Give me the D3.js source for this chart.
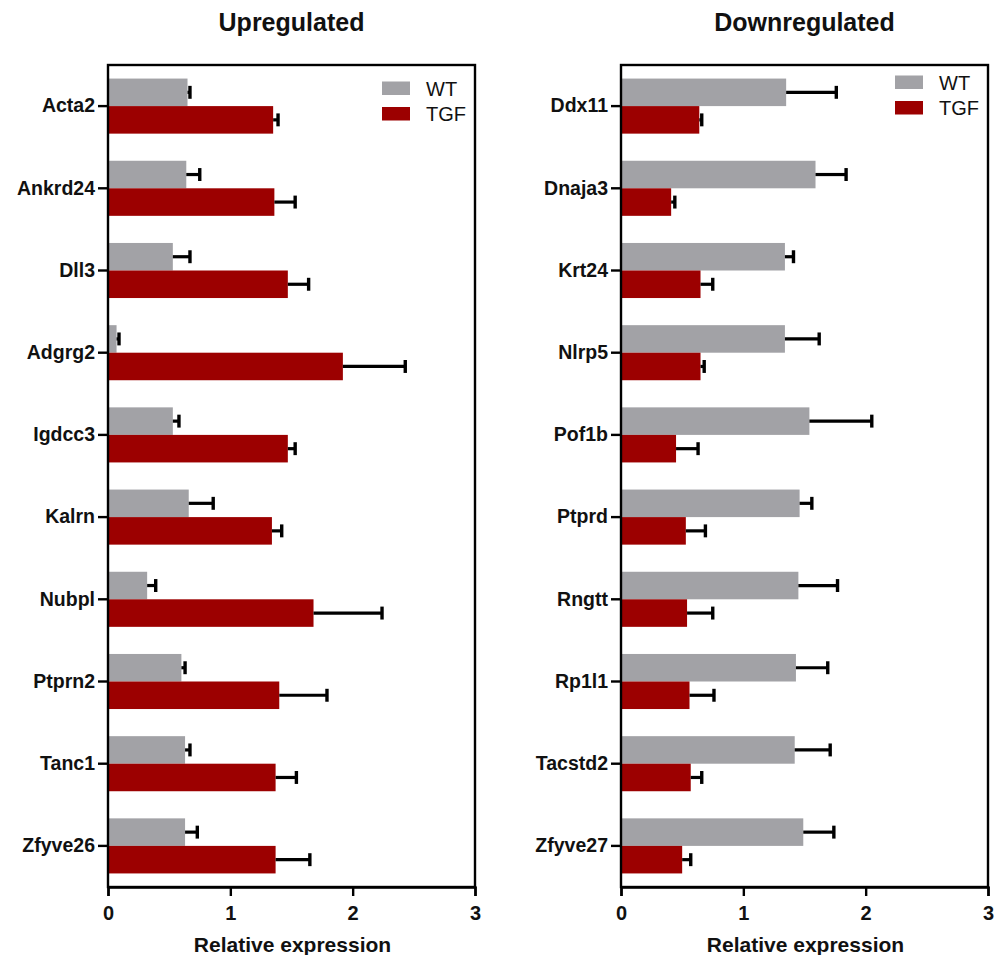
<!DOCTYPE html>
<html>
<head>
<meta charset="utf-8">
<script src="https://cdn.jsdelivr.net/npm/d3@7"></script>
<style>
  html, body { margin: 0; padding: 0; background: #fff; }
  svg { display: block; font-family: "Liberation Sans", Arial, Helvetica, sans-serif; }
</style>
</head>
<body>
<svg id="chart" width="997" height="955"></svg>
<script>
// Gene lists and measured means / error (SEM) per condition
const upGenes = ["Acta2", "Ankrd24", "Dll3", "Adgrg2", "Igdcc3", "Kalrn", "Nubpl", "Ptprn2", "Tanc1", "Zfyve26"];
const upWT      = [0.65, 0.64, 0.53, 0.07, 0.53, 0.66, 0.32, 0.60, 0.63, 0.63];
const upWTErr   = [0.02, 0.11, 0.14, 0.02, 0.05, 0.20, 0.07, 0.03, 0.04, 0.10];
const upTGF     = [1.35, 1.36, 1.47, 1.92, 1.47, 1.34, 1.68, 1.40, 1.37, 1.37];
const upTGFErr  = [0.04, 0.17, 0.17, 0.51, 0.06, 0.08, 0.56, 0.39, 0.17, 0.28];

const downGenes = ["Ddx11", "Dnaja3", "Krt24", "Nlrp5", "Pof1b", "Ptprd", "Rngtt", "Rp1l1", "Tacstd2", "Zfyve27"];
const downWT     = [1.35, 1.59, 1.34, 1.34, 1.54, 1.46, 1.45, 1.43, 1.42, 1.49];
const downWTErr  = [0.41, 0.25, 0.07, 0.28, 0.51, 0.10, 0.32, 0.26, 0.29, 0.25];
const downTGF    = [0.64, 0.41, 0.65, 0.65, 0.45, 0.53, 0.54, 0.56, 0.57, 0.50];
const downTGFErr = [0.02, 0.03, 0.10, 0.03, 0.18, 0.16, 0.21, 0.20, 0.09, 0.07];

const seriesNames = ["WT", "TGF"];
const seriesColors = ["#a2a2a6", "#9c0000"];
const xTicks = [0, 1, 2, 3];

const svg = d3.select("#chart");
const FONT = "Liberation Sans, Arial, sans-serif";

function panel(opts) {
  const { title, genes, wt, wtErr, tgf, tgfErr, left, right, legendY } = opts;
  const top = 65, bottom = 887;
  const g = svg.append("g");

  const x = d3.scaleLinear().domain([0, 3]).range([left, right]);
  const y = d3.scaleBand().domain(genes).range([top, bottom]).paddingInner(0.33).paddingOuter(0.165);
  const sub = d3.scaleBand().domain(seriesNames).range([0, y.bandwidth()]);

  const rows = genes.map((gene, i) => ({
    gene,
    vals: [
      { s: "WT", v: wt[i], e: wtErr[i] },
      { s: "TGF", v: tgf[i], e: tgfErr[i] }
    ]
  }));

  const colour = d3.scaleOrdinal().domain(seriesNames).range(seriesColors);

  // bars
  const grp = g.selectAll("g.row").data(rows).join("g")
    .attr("transform", d => `translate(0,${y(d.gene)})`);

  grp.selectAll("rect").data(d => d.vals).join("rect")
    .attr("x", x(0))
    .attr("y", d => sub(d.s))
    .attr("width", d => x(d.v) - x(0))
    .attr("height", sub.bandwidth())
    .attr("fill", d => colour(d.s));

  // error bars (upper side only)
  const capH = sub.bandwidth() * 0.47;
  grp.selectAll("line.err").data(d => d.vals).join("line")
    .attr("class", "err")
    .attr("x1", d => x(d.v)).attr("x2", d => x(d.v + d.e))
    .attr("y1", d => sub(d.s) + sub.bandwidth() / 2)
    .attr("y2", d => sub(d.s) + sub.bandwidth() / 2)
    .attr("stroke", "#000").attr("stroke-width", 3.2);
  grp.selectAll("line.cap").data(d => d.vals).join("line")
    .attr("class", "cap")
    .attr("x1", d => x(d.v + d.e)).attr("x2", d => x(d.v + d.e))
    .attr("y1", d => sub(d.s) + sub.bandwidth() / 2 - capH / 2)
    .attr("y2", d => sub(d.s) + sub.bandwidth() / 2 + capH / 2)
    .attr("stroke", "#000").attr("stroke-width", 3.4);

  // frame
  g.append("rect")
    .attr("x", left).attr("y", top)
    .attr("width", right - left).attr("height", bottom - top)
    .attr("fill", "none").attr("stroke", "#000").attr("stroke-width", 2.4);

  // x axis
  const xAxis = g.append("g")
    .attr("transform", `translate(0,${bottom})`)
    .call(d3.axisBottom(x).tickValues(xTicks).tickFormat(d3.format("d")).tickSize(9).tickPadding(10));
  xAxis.select(".domain").attr("stroke-width", 2.4);
  xAxis.selectAll(".tick line").attr("stroke-width", 2.4);
  xAxis.selectAll("text")
    .attr("font-size", 20).attr("font-weight", "bold").attr("fill", "#111")
    .attr("font-family", FONT);

  // y axis (ticks at the centre of each gene group)
  const yAxis = g.append("g")
    .attr("transform", `translate(${left},0)`)
    .call(d3.axisLeft(y).tickSize(10).tickPadding(3));
  yAxis.select(".domain").remove();
  yAxis.selectAll(".tick line").attr("stroke-width", 2.4);
  yAxis.selectAll("text")
    .attr("font-size", 19.5).attr("font-weight", "bold").attr("fill", "#111")
    .attr("font-family", FONT);

  // title
  g.append("text")
    .attr("x", (left + right) / 2).attr("y", 31)
    .attr("text-anchor", "middle")
    .attr("font-size", 25).attr("font-weight", "bold").attr("fill", "#111")
    .text(title);

  // x label
  g.append("text")
    .attr("x", (left + right) / 2 + 1).attr("y", 952)
    .attr("text-anchor", "middle")
    .attr("font-size", 21).attr("font-weight", "bold").attr("fill", "#111")
    .text("Relative expression");

  // legend
  const lx = right - 93;
  const leg = g.append("g");
  seriesNames.forEach((s, i) => {
    const yy = legendY + i * 25.5;
    leg.append("rect")
      .attr("x", lx).attr("y", yy)
      .attr("width", 28).attr("height", 13.5)
      .attr("fill", colour(s));
    leg.append("text")
      .attr("x", lx + 44).attr("y", yy + 14)
      .attr("font-size", 20).attr("fill", "#111")
      .text(s);
  });
}

panel({
  title: "Upregulated", genes: upGenes,
  wt: upWT, wtErr: upWTErr, tgf: upTGF, tgfErr: upTGFErr,
  left: 108, right: 475, legendY: 81.5
});

panel({
  title: "Downregulated", genes: downGenes,
  wt: downWT, wtErr: downWTErr, tgf: downTGF, tgfErr: downTGFErr,
  left: 621, right: 988, legendY: 75.5
});
</script>
</body>
</html>
